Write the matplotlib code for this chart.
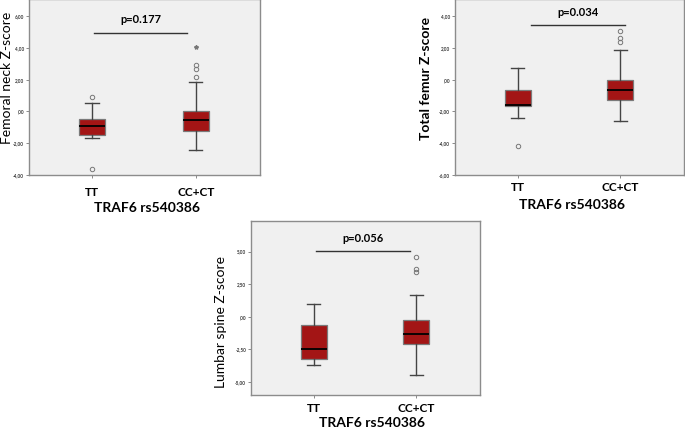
import matplotlib.pyplot as plt

plt.rcParams["font.family"] = ["Lato", "DejaVu Sans"]

groups = ["TT", "CC+CT"]

# femoral neck
fn_q1 = [-1.47, -1.26]
fn_med = [-0.90, -0.54]
fn_q3 = [-0.47, 0.05]
fn_lo = [-1.64, -2.44]
fn_hi = [0.54, 1.87]
fn_out = [[0.94, -3.64], [2.14, 2.65, 2.94]]
fn_extreme = [[], [4.06]]
fn_p = "p=0.177"

# total femur
tf_q1 = [-1.68, -1.26]
tf_med = [-1.57, -0.67]
tf_q3 = [-0.62, 0.01]
tf_lo = [-2.38, -2.57]
tf_hi = [0.71, 1.89]
tf_out = [[-4.16], [2.40, 2.63, 3.08]]
tf_extreme = [[], []]
tf_p = "p=0.034"

# lumbar spine
ls_q1 = [-3.28, -2.12]
ls_med = [-2.48, -1.31]
ls_q3 = [-0.66, -0.28]
ls_lo = [-3.71, -4.50]
ls_hi = [1.00, 1.69]
ls_out = [[], [3.46, 3.65, 4.60]]
ls_extreme = [[], []]
ls_p = "p=0.056"

BOX = "#a31515"
BG = "#f0f0f0"
FRAME = "#8c8c8c"


def panel(fig, rect, q1, med, q3, lo, hi, out, extreme, ylim, ticks, ticklabels,
          ylabel, ylabel_size, ylabel_weight, ylabel_xy, xlabel_xy, xpad,
          ptext, pline, p_y):
    ax = fig.add_axes(rect)
    ax.set_facecolor(BG)
    stats = []
    for i in range(2):
        stats.append(dict(q1=q1[i], med=med[i], q3=q3[i], whislo=lo[i],
                          whishi=hi[i], fliers=out[i], label=groups[i]))
    ax.bxp(stats, positions=[1, 2], widths=0.255, patch_artist=True,
           boxprops=dict(facecolor=BOX, edgecolor="#7a7a7a", linewidth=0.9),
           medianprops=dict(color="black", linewidth=1.3),
           whiskerprops=dict(color="#444444", linewidth=1.0),
           capprops=dict(color="#444444", linewidth=1.0),
           capwidths=0.13,
           flierprops=dict(marker="o", markersize=3.2, markerfacecolor="none",
                           markeredgecolor="#777777", markeredgewidth=0.7))
    for i in range(2):
        if extreme[i]:
            ax.plot([i + 1] * len(extreme[i]), extreme[i], linestyle="none",
                    marker="*", markersize=3, color="#777777")
    ax.plot(pline, [p_y, p_y], color="#333333", linewidth=1.0)
    ax.text(sum(pline) / 2, p_y + (ylim[1] - ylim[0]) * 0.072, ptext,
            ha="center", va="center", fontsize=8, fontweight="bold")
    ax.set_xlim(0.39, 2.62)
    ax.set_ylim(*ylim)
    ax.set_yticks(ticks)
    ax.set_yticklabels(ticklabels, fontsize=3.3, fontweight="bold", color="#333333")
    ax.set_xticks([1, 2])
    ax.set_xticklabels(groups, fontsize=8.5, fontweight="bold")
    ax.tick_params(axis="y", length=2.5, width=0.6, color="#777777", pad=1)
    ax.tick_params(axis="x", length=2.5, width=0.6, color="#777777", pad=xpad)
    for s in ["left", "bottom", "right", "top"]:
        ax.spines[s].set_color(FRAME)
        ax.spines[s].set_linewidth(1.0)
    ax.set_xlabel("TRAF6 rs540386", fontsize=10, fontweight="bold")
    ax.xaxis.set_label_coords(*xlabel_xy)
    ax.xaxis.label.set_verticalalignment("center")
    ax.set_ylabel(ylabel, fontsize=ylabel_size, fontweight=ylabel_weight)
    ax.yaxis.set_label_coords(*ylabel_xy)
    ax.yaxis.label.set_verticalalignment("center")
    return ax


fig = plt.figure(figsize=(6.85, 4.29), dpi=100)

panel(fig, [0.0423, 0.592, 0.3372, 0.41], fn_q1, fn_med, fn_q3, fn_lo, fn_hi,
      fn_out, fn_extreme, (-4, 7.07), [-4, -2, 0, 2, 4, 6],
      ["-4,00", "-2,00", ",00", "2,00", "4,00", "6,00"],
      "Femoral neck Z-score", 10, "normal", (-0.095, 0.55), (0.51, -0.19), 6.3,
      fn_p, [1.016, 1.92], 4.97)

panel(fig, [0.6642, 0.592, 0.3343, 0.41], tf_q1, tf_med, tf_q3, tf_lo, tf_hi,
      tf_out, tf_extreme, (-6, 5.07), [-6, -4, -2, 0, 2, 4],
      ["-6,00", "-4,00", "-2,00", ",00", "2,00", "4,00"],
      "Total femur Z-score", 10, "bold", (-0.125, 0.55), (0.51, -0.17), 2.5,
      tf_p, [1.135, 2.045], 3.42)

panel(fig, [0.3664, 0.0793, 0.3343, 0.4056], ls_q1, ls_med, ls_q3, ls_lo, ls_hi,
      ls_out, ls_extreme, (-6.02, 7.36), [-5, -2.5, 0, 2.5, 5],
      ["-5,00", "-2,50", ",00", "2,50", "5,00"],
      "Lumbar spine Z-score", 10, "normal", (-0.13, 0.42), (0.53, -0.16), 3.5,
      ls_p, [1.026, 1.94], 5.07)

fig.savefig("out.png", dpi=100)
